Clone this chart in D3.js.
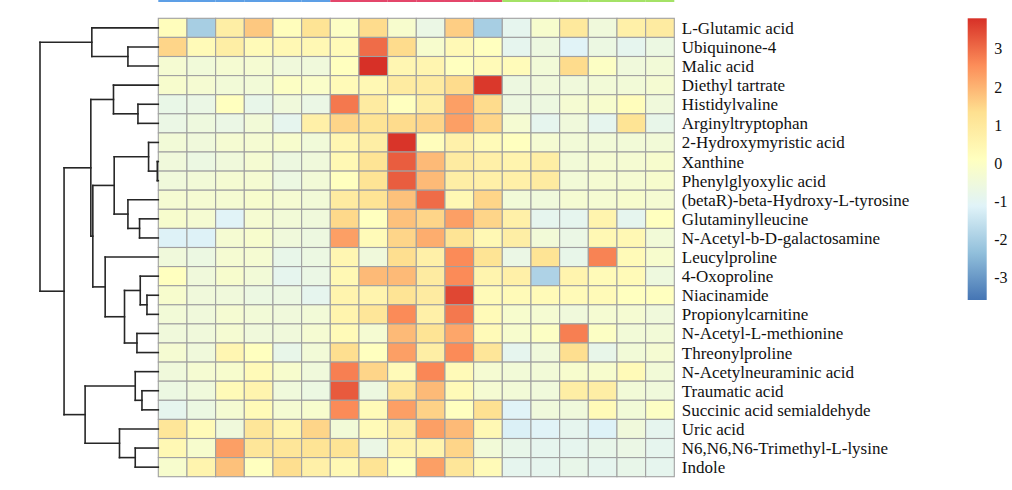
<!DOCTYPE html>
<html>
<head>
<meta charset="utf-8">
<script src="https://cdn.jsdelivr.net/npm/d3@7"></script>
<style>
  html, body { margin: 0; padding: 0; background: #fff; }
  svg { display: block; }
</style>
</head>
<body>
<svg id="chart" width="1012" height="490"></svg>
<script>
// ---------- DATA ----------
const rowLabels = [
  "L-Glutamic acid", "Ubiquinone-4", "Malic acid", "Diethyl tartrate", "Histidylvaline",
  "Arginyltryptophan", "2-Hydroxymyristic acid", "Xanthine", "Phenylglyoxylic acid",
  "(betaR)-beta-Hydroxy-L-tyrosine", "Glutaminylleucine", "N-Acetyl-b-D-galactosamine",
  "Leucylproline", "4-Oxoproline", "Niacinamide", "Propionylcarnitine",
  "N-Acetyl-L-methionine", "Threonylproline", "N-Acetylneuraminic acid", "Traumatic acid",
  "Succinic acid semialdehyde", "Uric acid", "N6,N6,N6-Trimethyl-L-lysine", "Indole"
];

// column groups (top annotation)
const columnGroups = ["A","A","A","A","A","A","B","B","B","B","B","B","C","C","C","C","C","C"];
const groupNames = ["A", "B", "C"];
const groupColors = ["#5d9fe6", "#e4466b", "#a4e266"];

// z-scored values, one row per metabolite, 18 samples
const values = [
  [ 0.2,-2.0, 0.8, 1.7, 0.2, 1.2, 0.0, 1.4,-0.2,-0.7, 1.6,-2.0,-0.9,-0.2, 1.0,-0.5, 0.7, 0.9],
  [ 1.5, 0.3, 0.8, 0.3, 0.4, 0.4, 0.3, 3.0, 1.4,-0.2, 0.35,0.1,-0.9,-0.6,-1.1,-0.65,-0.9,-0.65],
  [-0.3,-0.45,-0.3,-0.3,-0.5,-0.5, 0.1, 3.8, 0.45,0.5, 0.1, 0.3, 0.25,-0.4, 1.4, 0.0,-0.5,-0.4],
  [-0.2,-0.3,-0.4,-0.4, 0.0,-0.1, 0.3, 0.4, 0.9, 0.9, 1.4, 3.7,-0.6,-0.5,-0.5,-0.4,-0.4,-0.3],
  [-0.75,-0.7,0.1,-0.8,-0.5,-0.7, 2.85,0.9, 0.1, 0.8, 2.3, 1.4,-0.6,-0.6,-0.3,-0.2, 0.2,-0.5],
  [-0.7,-0.55,-0.7,-0.4,-0.9, 0.7, 1.5, 1.2, 1.4, 1.5, 2.3, 1.5,-0.3,-0.9,-0.5,-0.9, 1.2,-0.8],
  [-0.4,-0.5,-0.3,-0.3,-0.2,-0.45,0.45,0.8, 3.75,0.2, 0.65,0.3, 0.1,-0.3,-0.4,-0.4,-0.4,-0.4],
  [-0.5,-0.65,-0.5,-0.3,-0.6,-0.5, 0.4, 1.2, 3.2, 1.9, 0.9, 0.7, 0.55,0.8,-0.4,-0.3,-0.3,-0.2],
  [-0.5,-0.4,-0.3,-0.3,-0.65,-0.4, 0.1, 1.2, 3.2, 1.9, 0.8, 0.7, 0.7, 0.9,-0.4,-0.3,-0.3,-0.2],
  [-0.3,-0.3,-0.3,-0.2,-0.3,-0.4, 0.9, 1.2, 1.8, 3.0, 0.4, 1.5,-0.4,-0.5,-0.3,-0.3,-0.2,-0.3],
  [-0.2,-0.3,-1.1,-0.3,-0.4,-0.5, 1.45,0.1, 1.8, 1.5, 2.3, 1.5, 0.7,-0.9,-0.9, 0.55,-0.9, 0.1],
  [-1.15,-1.15,-0.3,-0.2,-0.5,-0.6,2.3, 0.3, 1.5, 2.1, 1.2, 0.4, 0.8,-0.4,-0.7, 0.4, 0.4,-0.4],
  [-0.5,-0.65,-0.3,-0.3,-0.8,-0.65,0.45,-0.5,1.35,0.7, 2.6, 1.2,-0.7, 1.2,-0.8, 2.7, 0.3,-0.2],
  [ 0.1,-0.5,-0.2,-0.4,-0.9,-0.7, 0.4, 1.9, 1.9, 0.9, 2.6, 0.55,0.7,-1.9, 0.55,0.3, 0.3,-0.55],
  [-0.2,-0.5,-0.5,-0.65,-0.65,-0.9,0.55,0.55,1.2, 0.9, 3.5, 0.3, 0.3, 0.3, 0.3, 0.3, 0.1, 0.1],
  [-0.4,-0.5,-0.3,-0.4,-0.5,-0.4, 0.55,1.1, 2.6, 0.7, 2.85,0.3,-0.2,-0.3,-0.5,-0.3,-0.3,-0.5],
  [-0.5,-0.5,-0.3,-0.5,-0.5,-0.3, 0.3,-0.3, 1.9, 1.2, 2.2, 0.3,-0.2, 0.0, 2.75,0.0,-0.4,-0.4],
  [-0.3,-0.5, 0.45,0.1,-0.8,-0.4, 1.35,0.1, 2.3, 0.8, 2.6, 1.1,-0.9,-0.5, 1.35,-0.8,-0.4,-0.3],
  [-0.5,-0.3,-0.2, 0.3,-0.2,-0.5, 2.75,1.5, 0.3, 2.65,0.3,-0.3,-0.4,-0.4,-0.2,-0.2, 0.3,-0.4],
  [-0.65,-0.5,0.3, 0.55,-0.5,-0.65,3.25,-0.6,1.1, 1.9, 0.3,-0.3,-0.4,-0.5, 0.8, 0.8,-0.4,-0.5],
  [-0.9,-0.65,-0.3,0.3,-0.3,-0.2, 2.6, 0.3, 2.3, 1.55,0.1, 1.3,-1.1,-0.5,-0.5, 0.3,-0.4, 0.0],
  [ 1.1, 0.3,-0.5, 1.1, 0.55,1.5,-0.4, 0.3, 0.8, 2.3, 1.9, 0.4,-1.2,-1.1,-0.9,-1.15,-0.5,-0.9],
  [ 0.4,-0.2, 2.3, 1.1, 1.1, 1.2, 1.2,-0.7, 0.55,0.55,1.5,-0.4,-0.8,-0.9,-0.9,-0.8,-0.7,-0.9],
  [-0.2, 0.55,1.8, 0.1, 1.35,0.7, 0.4, 1.2, 0.1, 2.3, 1.1, 0.3,-0.9,-0.9,-0.8,-0.9,-0.8,-0.9]
];

// colour legend
const legendTicks = [3, 2, 1, 0, -1, -2, -3];
const valueRange = [-3.58, 3.80];
const paletteStops = ["#4575B4", "#91BFDB", "#E0F3F8", "#FFFFBF", "#FEE090", "#FC8D59", "#D73027"];

// row dendrogram, hclust style: negative = leaf (1-based), positive = earlier merge (1-based)
const mergeLeft   = [-2, -1, -5, -4, -8, -7, -11, -10, 6, -15, -14, -17, 11, -13, 9, 4, -20, -19, -23, -22, 18, 16, 2];
const mergeRight  = [-3,  1, -6,  3, -9,  5, -12,   7, 8, -16,  10, -18, 12,  13, 14, 15, -21, 17, -24, 19, 20, 21, 22];
const mergeHeight = [3.03, 6.63, 2.03, 4.47, 0.1, 0.97, 1.87, 3.03, 4.4, 1.13, 1.8, 2.13, 3.37, 5.3, 6.53, 6.73, 1.63, 2.3, 2.3, 3.87, 7.3, 9.4, 11.8];

// ---------- LAYOUT ----------
const svg = d3.select("#chart");
const gridLeft = 158.3, gridRight = 674.3, gridTop = 18.3, gridBottom = 476.7;
const nCols = values[0].length;

const x = d3.scaleBand().domain(d3.range(nCols)).range([gridLeft, gridRight]);
const y = d3.scaleBand().domain(d3.range(rowLabels.length)).range([gridTop, gridBottom]);

const color = d3.scaleLinear()
  .domain(paletteStops.map((_, i) => valueRange[0] + i * (valueRange[1] - valueRange[0]) / (paletteStops.length - 1)))
  .range(paletteStops)
  .interpolate(d3.interpolateRgb)
  .clamp(true);

// top annotation bar
const groupColor = d3.scaleOrdinal().domain(groupNames).range(groupColors);
svg.append("g").selectAll("rect")
  .data(columnGroups)
  .join("rect")
  .attr("x", (d, i) => x(i))
  .attr("y", -10)
  .attr("width", x.bandwidth())
  .attr("height", 12)
  .attr("fill", d => groupColor(d));

// heatmap cells
const cells = [];
values.forEach((row, r) => row.forEach((v, c) => cells.push({ r, c, v })));
svg.append("g").selectAll("rect")
  .data(cells)
  .join("rect")
  .attr("x", d => x(d.c))
  .attr("y", d => y(d.r))
  .attr("width", x.bandwidth())
  .attr("height", y.bandwidth())
  .attr("fill", d => color(d.v))
  .attr("stroke", "#a0a0a0")
  .attr("stroke-width", 1.1);

// row labels
svg.append("g").selectAll("text")
  .data(rowLabels)
  .join("text")
  .attr("x", gridRight + 7.5)
  .attr("y", (d, i) => y(i) + y.bandwidth() / 2)
  .attr("dy", "0.35em")
  .attr("font-family", "'Liberation Serif', 'Times New Roman', serif")
  .attr("font-size", 17)
  .attr("fill", "#111")
  .text(d => d);

// dendrogram
const hx = d3.scaleLinear().domain([0, d3.max(mergeHeight)]).range([gridLeft, 40]);
const nodeY = [], nodeH = [];
function childPos(id) {
  if (id < 0) return { y: y(-id - 1) + y.bandwidth() / 2, h: 0 };
  return { y: nodeY[id - 1], h: nodeH[id - 1] };
}
const segs = [];
mergeLeft.forEach((l, i) => {
  const a = childPos(l), b = childPos(mergeRight[i]);
  const h = mergeHeight[i];
  nodeY[i] = (a.y + b.y) / 2;
  nodeH[i] = h;
  segs.push([hx(a.h), a.y, hx(h), a.y]);
  segs.push([hx(b.h), b.y, hx(h), b.y]);
  segs.push([hx(h), a.y, hx(h), b.y]);
});
svg.append("g").selectAll("line")
  .data(segs)
  .join("line")
  .attr("x1", d => d[0]).attr("y1", d => d[1])
  .attr("x2", d => d[2]).attr("y2", d => d[3])
  .attr("stroke", "#262626")
  .attr("stroke-width", 1.6)
  .attr("stroke-linecap", "square");

// colour legend
const legTop = 18.3, legBottom = 300, legX = 967.7, legW = 19;
const ly = d3.scaleLinear().domain(valueRange).range([legBottom, legTop]);
const defs = svg.append("defs");
const grad = defs.append("linearGradient").attr("id", "lg")
  .attr("x1", 0).attr("y1", 1).attr("x2", 0).attr("y2", 0);
grad.selectAll("stop")
  .data(color.domain())
  .join("stop")
  .attr("offset", d => (d - valueRange[0]) / (valueRange[1] - valueRange[0]))
  .attr("stop-color", d => color(d));
svg.append("rect")
  .attr("x", legX).attr("y", legTop)
  .attr("width", legW).attr("height", legBottom - legTop)
  .attr("fill", "url(#lg)");
svg.append("g").selectAll("text")
  .data(legendTicks)
  .join("text")
  .attr("x", legX + legW + 7.5)
  .attr("y", d => ly(d))
  .attr("dy", "0.35em")
  .attr("font-family", "'Liberation Serif', 'Times New Roman', serif")
  .attr("font-size", 16)
  .attr("fill", "#111")
  .text(d => d);
</script>
</body>
</html>
